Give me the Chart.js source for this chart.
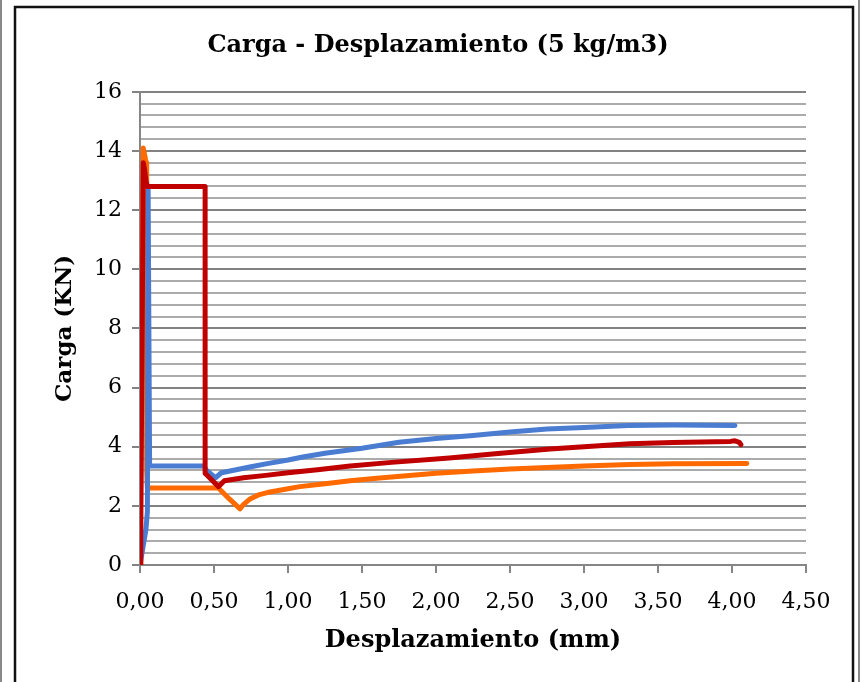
<!DOCTYPE html>
<html>
<head>
<meta charset="utf-8">
<script src="https://cdn.jsdelivr.net/npm/chart.js@4/dist/chart.umd.min.js"></script>
<style>
html,body{margin:0;padding:0;background:#fff;}
#wrap{width:861px;height:682px;position:relative;}
</style>
</head>
<body>
<div id="wrap"><canvas id="c" width="861" height="682"></canvas></div>
<script>
// ---- data ----
const chartTitle = 'Carga - Desplazamiento (5 kg/m3)';
const xAxisTitle = 'Desplazamiento (mm)';
const yAxisTitle = 'Carga (KN)';
const xTickLabels = ['0,00','0,50','1,00','1,50','2,00','2,50','3,00','3,50','4,00','4,50'];
const yTickLabels = ['0','2','4','6','8','10','12','14','16'];

const redX = [0, 0.005, 0.015, 0.022, 0.03, 0.04, 0.05, 0.44, 0.44, 0.47, 0.53, 0.57, 0.7, 0.85, 1.0, 1.2, 1.42, 1.7, 2.09, 2.4, 2.77, 3.0, 3.31, 3.6, 3.99, 4.02, 4.05, 4.06];
const redY = [0, 1.5, 8, 13.6, 13.4, 13.0, 12.8, 12.8, 3.1, 2.95, 2.65, 2.85, 2.95, 3.03, 3.12, 3.22, 3.35, 3.47, 3.62, 3.76, 3.92, 4.0, 4.1, 4.14, 4.18, 4.2, 4.15, 4.07];

const blueX = [0, 0.02, 0.04, 0.05, 0.055, 0.06, 0.065, 0.43, 0.45, 0.51, 0.55, 0.65, 0.75, 0.85, 1.0, 1.1, 1.25, 1.5, 1.75, 2.0, 2.25, 2.5, 2.75, 3.0, 3.3, 3.6, 4.02];
const blueY = [0, 0.6, 1.2, 1.8, 12.7, 12.7, 3.35, 3.35, 3.2, 2.95, 3.12, 3.22, 3.32, 3.42, 3.55, 3.65, 3.78, 3.95, 4.15, 4.28, 4.38, 4.5, 4.6, 4.65, 4.72, 4.73, 4.72];

const orangeX = [0, 0.005, 0.015, 0.022, 0.03, 0.038, 0.043, 0.045, 0.05, 0.53, 0.6, 0.676, 0.7, 0.74, 0.8, 0.86, 1.0, 1.08, 1.25, 1.42, 1.6, 1.76, 2.0, 2.25, 2.5, 2.75, 3.0, 3.31, 3.6, 4.1];
const orangeY = [0, 2, 10, 14.1, 13.9, 13.7, 13.6, 3.2, 2.6, 2.6, 2.25, 1.9, 2.05, 2.22, 2.37, 2.45, 2.58, 2.65, 2.75, 2.85, 2.93, 3.0, 3.1, 3.18, 3.25, 3.3, 3.35, 3.4, 3.42, 3.43];

// ---- build ----
const pts = (xs, ys) => xs.map((x, i) => ({x: x, y: ys[i]}));
const isMajor = v => Math.abs(v / 2 - Math.round(v / 2)) < 1e-6;
const fontFam = '"DejaVu Serif", "Liberation Serif", serif';

const framePlugin = {
  id: 'frame',
  beforeDraw(chart) {
    const c = chart.ctx;
    c.save();
    c.fillStyle = '#fff';
    c.fillRect(0, 0, chart.width, chart.height);
    c.strokeStyle = '#888';
    c.lineWidth = 2;
    c.beginPath();
    c.moveTo(1, 0); c.lineTo(1, chart.height);
    c.moveTo(859, 0); c.lineTo(859, chart.height);
    c.stroke();
    c.strokeStyle = '#111';
    c.lineWidth = 2.5;
    c.beginPath();
    c.moveTo(15, chart.height + 5);
    c.lineTo(15, 7);
    c.lineTo(853, 7);
    c.lineTo(853, chart.height + 5);
    c.stroke();
    c.restore();
  }
};

new Chart(document.getElementById('c'), {
  type: 'scatter',
  data: {
    datasets: [
      {label: 'Serie 3', data: pts(redX, redY), borderColor: '#C00000', backgroundColor: '#C00000'},
      {label: 'Serie 2', data: pts(blueX, blueY), borderColor: '#4A7DD1', backgroundColor: '#4A7DD1'},
      {label: 'Serie 1', data: pts(orangeX, orangeY), borderColor: '#FF6A00', backgroundColor: '#FF6A00'}
    ]
  },
  options: {
    responsive: false,
    animation: false,
    devicePixelRatio: 1,
    showLine: true,
    elements: {
      point: {radius: 0, hoverRadius: 0},
      line: {borderWidth: 5, tension: 0, borderCapStyle: 'round', borderJoinStyle: 'round', fill: false}
    },
    layout: {padding: {left: 15, right: 0, top: 0, bottom: 0}},
    plugins: {
      legend: {display: false},
      tooltip: {enabled: false},
      title: {
        display: true,
        text: chartTitle,
        color: '#000',
        font: {family: fontFam, size: 24, weight: 'bold'},
        padding: {top: 31, bottom: 32}
      }
    },
    scales: {
      x: {
        type: 'linear',
        min: 0, max: 4.5,
        afterBuildTicks(s) { s.ticks = xTickLabels.map((t, i) => ({value: i * 0.5})); },
        afterFit(s) { s.height = 117; },
        ticks: {
          autoSkip: false, maxRotation: 0,
          color: '#000',
          font: {family: fontFam, size: 22},
          padding: 16,
          callback: (v, i) => xTickLabels[i]
        },
        grid: {drawOnChartArea: false, drawTicks: true, tickLength: 8, color: '#868686', lineWidth: 2},
        border: {display: true, color: '#868686', width: 2},
        title: {
          display: true, text: xAxisTitle, color: '#000',
          font: {family: fontFam, size: 24, weight: 'bold'},
          padding: {top: 0, bottom: 27}
        }
      },
      y: {
        type: 'linear',
        min: 0, max: 16,
        afterBuildTicks(s) {
          const t = [];
          for (let i = 0; i <= 40; i++) t.push({value: Math.round(i * 4) / 10});
          s.ticks = t;
        },
        afterFit(s) { s.width = 125; },
        ticks: {
          autoSkip: false,
          color: '#000',
          font: {family: fontFam, size: 22},
          padding: 10,
          callback: v => isMajor(v) ? yTickLabels[Math.round(v / 2)] : ''
        },
        grid: {
          drawTicks: true, tickLength: 8,
          color: c => isMajor(c.tick.value) ? '#828282' : '#ababab',
          tickColor: c => isMajor(c.tick.value) ? '#828282' : 'rgba(0,0,0,0)',
          lineWidth: 2
        },
        border: {display: true, color: '#868686', width: 2},
        title: {
          display: true, text: yAxisTitle, color: '#000',
          font: {family: fontFam, size: 23, weight: 'bold'},
          padding: {top: 36, bottom: 0}
        }
      },
      yRight: {
        type: 'linear',
        position: 'right',
        min: 0, max: 16,
        afterFit(s) { s.width = 55; },
        ticks: {display: false},
        grid: {display: false, drawOnChartArea: false, drawTicks: false},
        border: {display: false}
      }
    }
  },
  plugins: [framePlugin]
});
</script>
</body>
</html>
